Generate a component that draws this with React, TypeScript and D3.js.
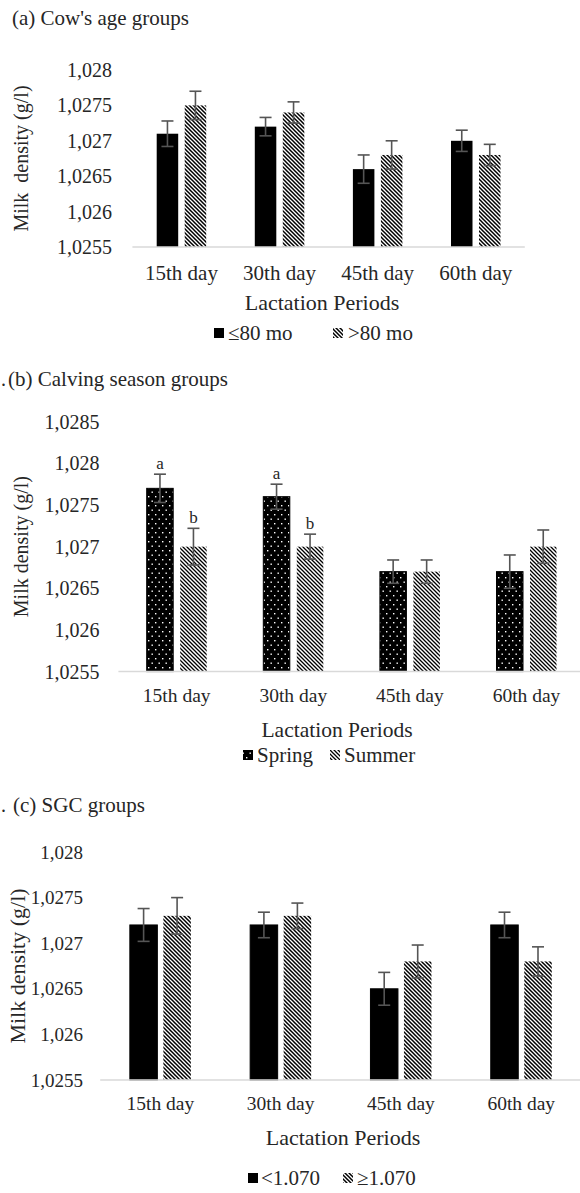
import React from "react";
import * as d3 from "d3";

// ---------- DATA ----------
const periods = ["15th day", "30th day", "45th day", "60th day"];

// (a) Cow's age groups
const ageLe80 = [1.0271, 1.0272, 1.0266, 1.027];
const ageLe80Err = [0.00018, 0.00013, 0.0002, 0.00015];
const ageGt80 = [1.0275, 1.0274, 1.0268, 1.0268];
const ageGt80Err = [0.0002, 0.00015, 0.0002, 0.00015];
const ticksA = [1.0255, 1.026, 1.0265, 1.027, 1.0275, 1.028];

// (b) Calving season groups
const spring = [1.0277, 1.0276, 1.0267, 1.0267];
const springErr = [0.00017, 0.00015, 0.00014, 0.0002];
const summer = [1.027, 1.027, 1.0267, 1.027];
const summerErr = [0.00022, 0.00015, 0.00014, 0.0002];
const springLetters = ["a", "a", "", ""];
const summerLetters = ["b", "b", "", ""];
const ticksB = [1.0255, 1.026, 1.0265, 1.027, 1.0275, 1.028, 1.0285];

// (c) SGC groups
const sgcLow = [1.0272, 1.0272, 1.0265, 1.0272];
const sgcLowErr = [0.00018, 0.00014, 0.00018, 0.00014];
const sgcHigh = [1.0273, 1.0273, 1.0268, 1.0268];
const sgcHighErr = [0.0002, 0.00014, 0.00018, 0.00016];
const ticksC = [1.0255, 1.026, 1.0265, 1.027, 1.0275, 1.028];

const FONT = "Liberation Serif, Tinos, Times New Roman, Nimbus Roman, DejaVu Serif, serif";
const TXT = "#262626";

const fmt = (v: number) => v.toFixed(4).replace(/0+$/, "").replace(".", ",");

type Series = { name: string; values: number[]; errs: number[]; fill: string; stroke?: string; letters?: string[]; legendX: number; legendTextX: number };

type PanelCfg = {
  title: string;
  titleX: number;
  titleY: number;
  dot?: boolean;
  ticks: number[];
  x0: number;
  x1: number;
  axisEnd: number;
  yBase: number;
  yTop: number;
  barW: number;
  gap: number;
  tickRight: number;
  tickSize: number;
  yLabel: string;
  yLabelX: number;
  yLabelSize: number;
  xLabelY: number;
  xLabelSize: number;
  axisTitleY: number;
  axisTitleX: number;
  axisTitleSize: number;
  legendY: number;
  legendSize: number;
  series: Series[];
};

const tstyle = (size: number): React.CSSProperties => ({ fontFamily: FONT, fontSize: size, fill: TXT, whiteSpace: "pre" });

function Panel({ cfg }: { cfg: PanelCfg }) {
  const x = d3.scaleBand<string>().domain(periods).range([cfg.x0, cfg.x1]);
  const L = 2 * cfg.barW + cfg.gap;
  const inner = d3
    .scaleBand<number>()
    .domain([0, 1])
    .range([-L / 2, L / 2])
    .paddingInner(cfg.gap / (cfg.barW + cfg.gap));
  const y = d3
    .scaleLinear()
    .domain([cfg.ticks[0], cfg.ticks[cfg.ticks.length - 1]])
    .range([cfg.yBase, cfg.yTop]);
  const yMid = (cfg.yBase + cfg.yTop) / 2;
  return (
    <g>
      {cfg.dot && (
        <text x={1} y={cfg.titleY} dy="0.35em" style={tstyle(20)}>
          .
        </text>
      )}
      <text x={cfg.titleX} y={cfg.titleY} dy="0.35em" style={tstyle(21)}>
        {cfg.title}
      </text>
      {cfg.ticks.map((t) => (
        <text key={t} x={cfg.tickRight} y={y(t)} dy="0.35em" textAnchor="end" style={tstyle(cfg.tickSize)}>
          {fmt(t)}
        </text>
      ))}
      <text
        transform={`translate(${cfg.yLabelX},${yMid}) rotate(-90)`}
        textAnchor="middle"
        dy="0.35em"
        style={tstyle(cfg.yLabelSize)}
      >
        {cfg.yLabel}
      </text>
      {cfg.series.map((s, si) =>
        periods.map((p, i) => {
          const cx = (x(p) as number) + x.bandwidth() / 2;
          const bx = cx + (inner(si) as number);
          const v = s.values[i];
          const e = s.errs[i];
          const mid = bx + inner.bandwidth() / 2;
          return (
            <g key={`${si}-${i}`}>
              <rect
                x={bx}
                y={y(v)}
                width={inner.bandwidth()}
                height={cfg.yBase - y(v)}
                fill={s.fill}
                stroke={s.stroke || "none"}
                strokeWidth={1}
              />
              <g stroke="#555" strokeWidth={1.6}>
                <line x1={mid} x2={mid} y1={y(v + e)} y2={y(v - e)} />
                <line x1={mid - 6} x2={mid + 6} y1={y(v + e)} y2={y(v + e)} />
                <line x1={mid - 6} x2={mid + 6} y1={y(v - e)} y2={y(v - e)} />
              </g>
              {s.letters && s.letters[i] && (
                <text x={mid} y={y(v + e) - 11} dy="0.35em" textAnchor="middle" style={tstyle(17)}>
                  {s.letters[i]}
                </text>
              )}
            </g>
          );
        })
      )}
      <line x1={cfg.x0} x2={cfg.axisEnd} y1={cfg.yBase} y2={cfg.yBase} stroke="#d9d9d9" strokeWidth={1.5} />
      {periods.map((p) => (
        <text
          key={p}
          x={(x(p) as number) + x.bandwidth() / 2}
          y={cfg.xLabelY}
          dy="0.35em"
          textAnchor="middle"
          style={tstyle(cfg.xLabelSize)}
        >
          {p}
        </text>
      ))}
      <text x={cfg.axisTitleX} y={cfg.axisTitleY} dy="0.35em" textAnchor="middle" style={tstyle(cfg.axisTitleSize)}>
        Lactation Periods
      </text>
      {cfg.series.map((s) => (
        <g key={s.name}>
          <rect x={s.legendX} y={cfg.legendY - 5} width={10} height={10} fill={s.fill} />
          <text x={s.legendTextX} y={cfg.legendY} dy="0.35em" style={tstyle(cfg.legendSize)}>
            {s.name}
          </text>
        </g>
      ))}
    </g>
  );
}

const panelA: PanelCfg = {
  title: "(a) Cow's age groups",
  titleX: 12,
  titleY: 18,
  ticks: ticksA,
  x0: 132.4,
  x1: 524.8,
  axisEnd: 524.8,
  yBase: 247,
  yTop: 70,
  barW: 21.5,
  gap: 6.5,
  tickRight: 112,
  tickSize: 20,
  yLabel: "Milk  density (g/l)",
  yLabelX: 21,
  yLabelSize: 20,
  xLabelY: 273,
  xLabelSize: 21,
  axisTitleY: 302,
  axisTitleX: 322,
  axisTitleSize: 22,
  legendY: 333,
  legendSize: 21,
  series: [
    { name: "≤80 mo", values: ageLe80, errs: ageLe80Err, fill: "#000", legendX: 214, legendTextX: 228 },
    { name: ">80 mo", values: ageGt80, errs: ageGt80Err, fill: "url(#hatchA)", legendX: 333, legendTextX: 348 },
  ],
};

const panelB: PanelCfg = {
  title: "(b) Calving season groups",
  titleX: 8,
  titleY: 379,
  dot: true,
  ticks: ticksB,
  x0: 118.4,
  x1: 584.8,
  axisEnd: 580,
  yBase: 671.6,
  yTop: 421.7,
  barW: 26.5,
  gap: 7,
  tickRight: 99.5,
  tickSize: 20,
  yLabel: "Milk density (g/l)",
  yLabelX: 21,
  yLabelSize: 20,
  xLabelY: 695,
  xLabelSize: 19.5,
  axisTitleY: 729,
  axisTitleX: 337,
  axisTitleSize: 21.5,
  legendY: 755,
  legendSize: 21,
  series: [
    { name: "Spring", values: spring, errs: springErr, fill: "url(#dots)", stroke: "#000", letters: springLetters, legendX: 243, legendTextX: 257 },
    { name: "Summer", values: summer, errs: summerErr, fill: "url(#hatchB)", letters: summerLetters, legendX: 330, legendTextX: 344 },
  ],
};

const panelC: PanelCfg = {
  title: "(c) SGC groups",
  titleX: 13,
  titleY: 805,
  dot: true,
  ticks: ticksC,
  x0: 100.2,
  x1: 581.4,
  axisEnd: 580,
  yBase: 1080,
  yTop: 852,
  barW: 27.5,
  gap: 6,
  tickRight: 83,
  tickSize: 19,
  yLabel: "Milk density (g/l)",
  yLabelX: 17,
  yLabelSize: 22,
  xLabelY: 1103,
  xLabelSize: 19.5,
  axisTitleY: 1137,
  axisTitleX: 343,
  axisTitleSize: 22,
  legendY: 1178,
  legendSize: 21,
  series: [
    { name: "<1.070", values: sgcLow, errs: sgcLowErr, fill: "#000", stroke: "#000", legendX: 248, legendTextX: 261 },
    { name: "≥1.070", values: sgcHigh, errs: sgcHighErr, fill: "url(#hatchC)", legendX: 343, legendTextX: 357 },
  ],
};

function Hatch({ id, w }: { id: string; w: number }) {
  return (
    <pattern id={id} patternUnits="userSpaceOnUse" width={4} height={4}>
      <rect width={4} height={4} fill="#fff" />
      <path d="M-1,-1 L5,5 M-1,3 L1,5 M3,-1 L5,1" stroke="#000" strokeWidth={w} />
    </pattern>
  );
}

export default function App() {
  return (
    <svg
      width={580}
      height={1193}
      style={{ position: "absolute", left: 0, top: 0, display: "block", background: "#fff" }}
    >
      <defs>
        <Hatch id="hatchA" w={1.5} />
        <Hatch id="hatchB" w={1.3} />
        <Hatch id="hatchC" w={1.5} />
        <pattern id="dots" patternUnits="userSpaceOnUse" width={7} height={9}>
          <rect width={7} height={9} fill="#000" />
          <rect x={1} y={1} width={1.4} height={1.4} fill="#fff" />
          <rect x={4.5} y={5.5} width={1.4} height={1.4} fill="#fff" />
        </pattern>
      </defs>
      <rect width={580} height={1193} fill="#fff" />
      <Panel cfg={panelA} />
      <Panel cfg={panelB} />
      <Panel cfg={panelC} />
    </svg>
  );
}
